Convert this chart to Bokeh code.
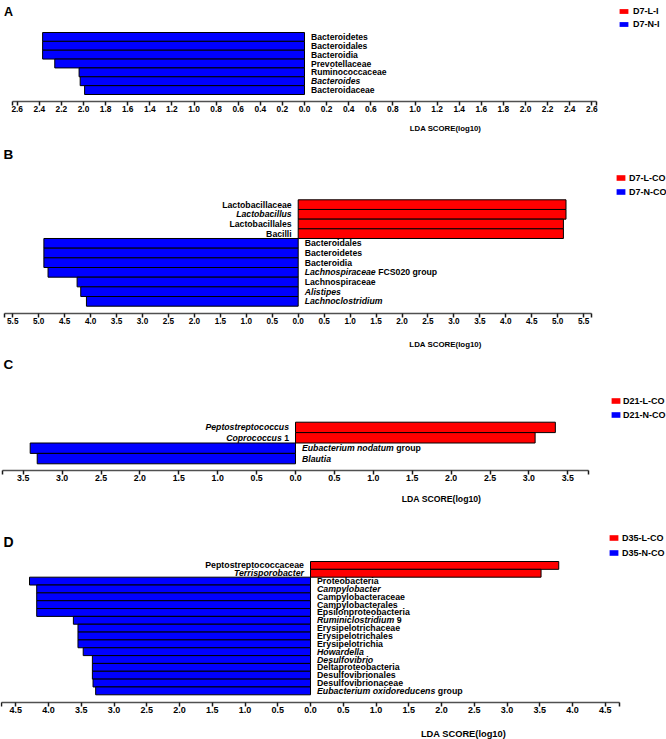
from bokeh.plotting import figure
from bokeh.layouts import column
from bokeh.models import (ColumnDataSource, Range1d, FixedTicker, CustomJSTickFormatter,
                          Label, Legend, LegendItem)
from bokeh.core.properties import value
from bokeh.embed import file_html
from bokeh.resources import INLINE

# ---------------- data ----------------
# "*text*" marks the italic (genus) part of a label
A_taxa = ["Bacteroidetes", "Bacteroidales", "Bacteroidia", "Prevotellaceae",
          "Ruminococcaceae", "*Bacteroides*", "Bacteroidaceae"]
A_group = ["N", "N", "N", "N", "N", "N", "N"]
A_lda = [2.37, 2.37, 2.37, 2.26, 2.04, 2.03, 1.99]
A_classes = ["D7-L-I", "D7-N-I"]
A_ticks = [0.0, 0.2, 0.4, 0.6, 0.8, 1.0, 1.2, 1.4, 1.6, 1.8, 2.0, 2.2, 2.4, 2.6]

B_taxa = ["Lactobacillaceae", "*Lactobacillus*", "Lactobacillales", "Bacilli",
          "Bacteroidales", "Bacteroidetes", "Bacteroidia",
          "*Lachnospiraceae* FCS020 group", "Lachnospiraceae", "*Alistipes*",
          "*Lachnoclostridium*"]
B_group = ["L", "L", "L", "L", "N", "N", "N", "N", "N", "N", "N"]
B_lda = [5.16, 5.16, 5.11, 5.11, 4.90, 4.90, 4.90, 4.82, 4.26, 4.19, 4.08]
B_classes = ["D7-L-CO", "D7-N-CO"]
B_ticks = [0.0, 0.5, 1.0, 1.5, 2.0, 2.5, 3.0, 3.5, 4.0, 4.5, 5.0, 5.5]

C_taxa = ["*Peptostreptococcus*", "*Coprococcus* 1", "*Eubacterium nodatum* group", "*Blautia*"]
C_group = ["L", "L", "N", "N"]
C_lda = [3.34, 3.08, 3.41, 3.32]
C_classes = ["D21-L-CO", "D21-N-CO"]
C_ticks = [0.0, 0.5, 1.0, 1.5, 2.0, 2.5, 3.0, 3.5]

D_taxa = ["Peptostreptococcaceae", "*Terrisporobacter*", "Proteobacteria", "*Campylobacter*",
          "Campylobacteraceae", "Campylobacterales", "Epsilonproteobacteria",
          "*Ruminiclostridium* 9", "Erysipelotrichaceae", "Erysipelotrichales",
          "Erysipelotrichia", "*Howardella*", "*Desulfovibrio*", "Deltaproteobacteria",
          "Desulfovibrionales", "Desulfovibrionaceae", "*Eubacterium oxidoreducens* group"]
D_group = ["L", "L"] + ["N"] * 15
D_lda = [3.79, 3.52, 4.29, 4.18, 4.18, 4.18, 4.18, 3.62, 3.55, 3.55, 3.55, 3.47,
         3.33, 3.33, 3.33, 3.32, 3.28]
D_classes = ["D35-L-CO", "D35-N-CO"]
D_ticks = [0.0, 0.5, 1.0, 1.5, 2.0, 2.5, 3.0, 3.5, 4.0, 4.5]

AXIS_TITLE = "LDA SCORE(log10)"

# ---------------- style / layout ----------------
RED = "#FF0000"
BLUE = "#0000FF"
FONT = "Liberation Sans"
FONT_V = value(FONT)
W = 666
NAN = float("nan")

_w = {' ': .278, '-': .333, '.': .278}
for ch, v in zip("abcdefghijklmnopqrstuvwxyz",
                 [.556, .611, .556, .611, .556, .333, .611, .611, .278, .278, .556, .278, .889,
                  .611, .611, .611, .611, .389, .556, .333, .611, .556, .778, .556, .556, .5]):
    _w[ch] = v
for ch, v in zip("ABCDEFGHIJKLMNOPQRSTUVWXYZ",
                 [.722, .722, .722, .722, .667, .611, .778, .722, .278, .556, .722, .611, .833,
                  .722, .778, .667, .778, .722, .667, .611, .722, .667, .944, .667, .667, .611]):
    _w[ch] = v
for ch in "0123456789":
    _w[ch] = .556


def text_w(s, fs):
    return sum(_w.get(c, .556) for c in s) * fs


def split(label):
    if label.startswith("*"):
        e = label.index("*", 1)
        return label[1:e], label[e + 1:]
    return "", label


GEOM = {
    "A": dict(top=0, height=140, zero=304, ppu=110.5, axis=101, bars_top=32, bars_bot=94,
              bound=2.64, tick_fs=8.4, lab_fs=8.6, title_fs=7.8, title_x=445, title_y=128,
              letter_x=3.5, letter_y=11.2, letter_fs=12.5,
              leg_x=618, leg_red=(9.3, 15.7), leg_blue=(21.7, 27.7), leg_text_x=633, leg_fs=9),
    "B": dict(top=140, height=212, zero=297.7, ppu=51.9, axis=313, bars_top=199.3, bars_bot=305.7,
              bound=5.66, tick_fs=8.2, lab_fs=8.7, title_fs=7.9, title_x=445, title_y=344,
              letter_x=3, letter_y=153.5, letter_fs=13.5,
              leg_x=615, leg_red=(176, 182.7), leg_blue=(189, 195), leg_text_x=629, leg_fs=9),
    "C": dict(top=352, height=163, zero=295, ppu=77.8, axis=470, bars_top=421.7, bars_bot=463.3,
              bound=3.76, tick_fs=8.8, lab_fs=8.7, title_fs=8.7, title_x=441, title_y=498,
              letter_x=3, letter_y=363.5, letter_fs=13.5,
              leg_x=610, leg_red=(398, 405), leg_blue=(411.7, 418.3), leg_text_x=623, leg_fs=9),
    "D": dict(top=515, height=224, zero=310, ppu=65.5, axis=702, bars_top=561, bars_bot=694.3,
              bound=4.71, tick_fs=9.0, lab_fs=8.8, title_fs=9.3, title_x=463, title_y=733,
              letter_x=3, letter_y=541, letter_fs=14,
              leg_x=608, leg_red=(536, 543.3), leg_blue=(550, 556.7), leg_text_x=622, leg_fs=9),
}

LEG_ITEM_H = 9.0      # height of a legend row


def px(v):
    return "%.1fpx" % v


def make_panel(letter, taxa, groups, lda, classes, ticks, g):
    n = len(taxa)
    ref_top = g["top"]
    H = g["height"]
    unit = (g["bars_bot"] - g["bars_top"]) / n
    zero, ppu = g["zero"], g["ppu"]

    def xd(r):
        return (r - zero) / ppu

    def yd(r):
        return -0.5 + (g["bars_bot"] - r) / unit

    p = figure(width=W, height=H,
               x_range=Range1d(xd(0), xd(W)),
               y_range=Range1d(yd(ref_top + H), yd(ref_top)),
               output_backend="svg", toolbar_location=None,
               min_border_left=0, min_border_right=0, min_border_top=0, min_border_bottom=0,
               y_axis_location=None, x_axis_location="below")
    p.outline_line_color = None
    p.grid.visible = False
    p.background_fill_color = "white"
    p.border_fill_color = "white"

    ys = [n - 1 - i for i in range(n)]
    red = dict(y=[], left=[], right=[])
    blue = dict(y=[], left=[], right=[])
    for y, gr, v in zip(ys, groups, lda):
        if gr == "L":
            red["y"].append(y); red["left"].append(0.0); red["right"].append(v)
        else:
            blue["y"].append(y); blue["left"].append(-v); blue["right"].append(0.0)
    p.hbar(y="y", left="left", right="right", height=1.0, source=ColumnDataSource(red),
           fill_color=RED, line_color="black", line_width=1)
    p.hbar(y="y", left="left", right="right", height=1.0, source=ColumnDataSource(blue),
           fill_color=BLUE, line_color="black", line_width=1)

    # taxon labels (italic genus part + upright rest)
    fs = g["lab_fs"]
    gap = 6.5
    parts = {k: dict(x=[], y=[], t=[], o=[]) for k in
             [("italic", "left"), ("normal", "left"), ("italic", "right"), ("normal", "right")]}
    for y, gr, lab in zip(ys, groups, taxa):
        it, pl = split(lab)
        pl_s = pl.lstrip(" ")
        lead = text_w(pl[:len(pl) - len(pl_s)], fs)
        if gr == "N":
            if it:
                d = parts[("italic", "left")]
                d["x"].append(0.0); d["y"].append(y); d["t"].append(it); d["o"].append(gap)
            if pl_s:
                d = parts[("normal", "left")]
                d["x"].append(0.0); d["y"].append(y); d["t"].append(pl_s)
                d["o"].append(gap + text_w(it, fs) + lead)
        else:
            if pl_s:
                d = parts[("normal", "right")]
                d["x"].append(0.0); d["y"].append(y); d["t"].append(pl_s); d["o"].append(-gap)
            if it:
                d = parts[("italic", "right")]
                d["x"].append(0.0); d["y"].append(y); d["t"].append(it)
                d["o"].append(-gap - text_w(pl_s, fs) - lead)
    for (style, align), d in parts.items():
        if not d["t"]:
            continue
        p.text(x="x", y="y", text="t", x_offset="o", source=ColumnDataSource(d),
               text_align=align, text_baseline="middle", text_font=FONT_V,
               text_font_style="bold italic" if style == "italic" else "bold",
               text_font_size="%.2fpx" % fs, text_color="black")

    # axis, pinned at its place inside the panel
    b = g["bound"]
    all_ticks = sorted(set([-t for t in ticks] + list(ticks) + [-b, b]))
    ax = p.xaxis[0]
    ax.fixed_location = yd(g["axis"])
    ax.bounds = (-b, b)
    ax.ticker = FixedTicker(ticks=all_ticks)
    ax.formatter = CustomJSTickFormatter(args=dict(b=b), code="""
        if (Math.abs(Math.abs(tick) - b) < 1e-6) { return ''; }
        return Math.abs(tick).toFixed(1);
    """)
    ax.axis_line_color = "#505050"
    ax.axis_line_width = 1.5
    ax.major_tick_line_color = "#1a1a1a"
    ax.major_tick_line_width = 1.5
    ax.major_tick_in = 0
    ax.major_tick_out = 4
    ax.minor_tick_out = 0
    ax.minor_tick_in = 0
    ax.major_label_standoff = 0
    ax.major_label_text_font = FONT
    ax.major_label_text_font_style = "bold"
    ax.major_label_text_font_size = px(g["tick_fs"])
    ax.major_label_text_color = "black"

    # axis title (off-centre, as in the original)
    p.add_layout(Label(x=xd(g["title_x"]), y=yd(g["title_y"]), text=AXIS_TITLE,
                       text_align="center", text_baseline="middle", text_font=FONT,
                       text_font_style="bold", text_font_size=px(g["title_fs"]),
                       text_color="black"))

    # panel letter
    p.add_layout(Label(x=xd(g["letter_x"]), y=yd(g["letter_y"]), text=letter,
                       text_align="left", text_baseline="middle", text_font=FONT,
                       text_font_style="bold", text_font_size=px(g["letter_fs"]),
                       text_color="black"))

    # legend (proxy renderers carry the colour keys only)
    r_red = p.hbar(y=[NAN], left=[0.0], right=[0.0], height=1.0, fill_color=RED, line_color=None)
    r_blue = p.hbar(y=[NAN], left=[0.0], right=[0.0], height=1.0, fill_color=BLUE, line_color=None)
    gh = g["leg_red"][1] - g["leg_red"][0]
    red_c = 0.5 * (g["leg_red"][0] + g["leg_red"][1])
    blue_c = 0.5 * (g["leg_blue"][0] + g["leg_blue"][1])
    spacing = (blue_c - red_c) - LEG_ITEM_H
    lx = g["leg_x"]
    ly = H - (blue_c + LEG_ITEM_H / 2 - ref_top)
    leg = Legend(items=[LegendItem(label=classes[0], renderers=[r_red]),
                        LegendItem(label=classes[1], renderers=[r_blue])],
                 location=(lx, ly), orientation="vertical",
                 glyph_width=11, glyph_height=int(round(gh)),
                 label_height=int(round(gh)), spacing=int(round(spacing)),
                 label_standoff=int(round(g["leg_text_x"] - g["leg_x"] - 11)),
                 padding=0, margin=0, border_line_color=None, background_fill_alpha=0,
                 label_text_font=FONT, label_text_font_style="bold",
                 label_text_font_size=px(g["leg_fs"]), label_text_color="black")
    p.add_layout(leg)
    return p


pA = make_panel("A", A_taxa, A_group, A_lda, A_classes, A_ticks, GEOM["A"])
pB = make_panel("B", B_taxa, B_group, B_lda, B_classes, B_ticks, GEOM["B"])
pC = make_panel("C", C_taxa, C_group, C_lda, C_classes, C_ticks, GEOM["C"])
pD = make_panel("D", D_taxa, D_group, D_lda, D_classes, D_ticks, GEOM["D"])

layout = column(pA, pB, pC, pD, spacing=0)
open("out.html", "w").write(file_html(layout, INLINE))
